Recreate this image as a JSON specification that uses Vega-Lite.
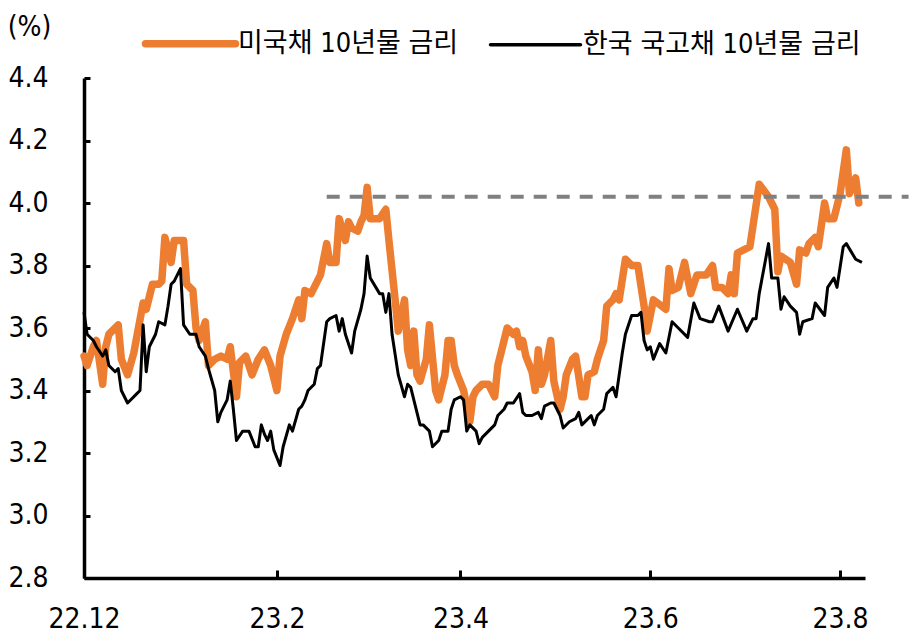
{
  "$schema": "https://vega.github.io/schema/vega-lite/v6.json",
  "width": 781,
  "height": 500,
  "autosize": {"type": "none"},
  "padding": {"left": 84, "top": 78, "right": 53, "bottom": 64},
  "background": "white",
  "config": {"view": {"stroke": null}, "font": "Liberation Sans Narrow, DejaVu Sans Condensed, Noto Sans CJK KR, sans-serif"},
  "datasets": {
    "rates": [
      {"series": "미국채 10년물 금리", "date": "2022-12-01", "value": 3.51},
      {"series": "미국채 10년물 금리", "date": "2022-12-02", "value": 3.48},
      {"series": "미국채 10년물 금리", "date": "2022-12-04", "value": 3.54},
      {"series": "미국채 10년물 금리", "date": "2022-12-05", "value": 3.56},
      {"series": "미국채 10년물 금리", "date": "2022-12-07", "value": 3.42},
      {"series": "미국채 10년물 금리", "date": "2022-12-08", "value": 3.54},
      {"series": "미국채 10년물 금리", "date": "2022-12-09", "value": 3.58},
      {"series": "미국채 10년물 금리", "date": "2022-12-12", "value": 3.61},
      {"series": "미국채 10년물 금리", "date": "2022-12-13", "value": 3.50},
      {"series": "미국채 10년물 금리", "date": "2022-12-15", "value": 3.45},
      {"series": "미국채 10년물 금리", "date": "2022-12-17", "value": 3.52},
      {"series": "미국채 10년물 금리", "date": "2022-12-20", "value": 3.68},
      {"series": "미국채 10년물 금리", "date": "2022-12-21", "value": 3.66},
      {"series": "미국채 10년물 금리", "date": "2022-12-23", "value": 3.74},
      {"series": "미국채 10년물 금리", "date": "2022-12-25", "value": 3.74},
      {"series": "미국채 10년물 금리", "date": "2022-12-26", "value": 3.75},
      {"series": "미국채 10년물 금리", "date": "2022-12-27", "value": 3.89},
      {"series": "미국채 10년물 금리", "date": "2022-12-29", "value": 3.81},
      {"series": "미국채 10년물 금리", "date": "2022-12-30", "value": 3.88},
      {"series": "미국채 10년물 금리", "date": "2023-01-02", "value": 3.88},
      {"series": "미국채 10년물 금리", "date": "2023-01-03", "value": 3.74},
      {"series": "미국채 10년물 금리", "date": "2023-01-05", "value": 3.72},
      {"series": "미국채 10년물 금리", "date": "2023-01-06", "value": 3.60},
      {"series": "미국채 10년물 금리", "date": "2023-01-07", "value": 3.56},
      {"series": "미국채 10년물 금리", "date": "2023-01-09", "value": 3.62},
      {"series": "미국채 10년물 금리", "date": "2023-01-10", "value": 3.48},
      {"series": "미국채 10년물 금리", "date": "2023-01-12", "value": 3.50},
      {"series": "미국채 10년물 금리", "date": "2023-01-14", "value": 3.51},
      {"series": "미국채 10년물 금리", "date": "2023-01-16", "value": 3.50},
      {"series": "미국채 10년물 금리", "date": "2023-01-17", "value": 3.54},
      {"series": "미국채 10년물 금리", "date": "2023-01-19", "value": 3.38},
      {"series": "미국채 10년물 금리", "date": "2023-01-20", "value": 3.49},
      {"series": "미국채 10년물 금리", "date": "2023-01-22", "value": 3.51},
      {"series": "미국채 10년물 금리", "date": "2023-01-24", "value": 3.45},
      {"series": "미국채 10년물 금리", "date": "2023-01-26", "value": 3.50},
      {"series": "미국채 10년물 금리", "date": "2023-01-28", "value": 3.53},
      {"series": "미국채 10년물 금리", "date": "2023-01-30", "value": 3.48},
      {"series": "미국채 10년물 금리", "date": "2023-02-01", "value": 3.40},
      {"series": "미국채 10년물 금리", "date": "2023-02-02", "value": 3.51},
      {"series": "미국채 10년물 금리", "date": "2023-02-04", "value": 3.58},
      {"series": "미국채 10년물 금리", "date": "2023-02-06", "value": 3.63},
      {"series": "미국채 10년물 금리", "date": "2023-02-08", "value": 3.69},
      {"series": "미국채 10년물 금리", "date": "2023-02-09", "value": 3.63},
      {"series": "미국채 10년물 금리", "date": "2023-02-10", "value": 3.72},
      {"series": "미국채 10년물 금리", "date": "2023-02-12", "value": 3.71},
      {"series": "미국채 10년물 금리", "date": "2023-02-15", "value": 3.77},
      {"series": "미국채 10년물 금리", "date": "2023-02-17", "value": 3.87},
      {"series": "미국채 10년물 금리", "date": "2023-02-18", "value": 3.81},
      {"series": "미국채 10년물 금리", "date": "2023-02-20", "value": 3.81},
      {"series": "미국채 10년물 금리", "date": "2023-02-21", "value": 3.95},
      {"series": "미국채 10년물 금리", "date": "2023-02-23", "value": 3.88},
      {"series": "미국채 10년물 금리", "date": "2023-02-24", "value": 3.94},
      {"series": "미국채 10년물 금리", "date": "2023-02-25", "value": 3.92},
      {"series": "미국채 10년물 금리", "date": "2023-02-27", "value": 3.91},
      {"series": "미국채 10년물 금리", "date": "2023-02-28", "value": 3.94},
      {"series": "미국채 10년물 금리", "date": "2023-03-01", "value": 3.96},
      {"series": "미국채 10년물 금리", "date": "2023-03-02", "value": 4.05},
      {"series": "미국채 10년물 금리", "date": "2023-03-03", "value": 3.95},
      {"series": "미국채 10년물 금리", "date": "2023-03-06", "value": 3.95},
      {"series": "미국채 10년물 금리", "date": "2023-03-08", "value": 3.98},
      {"series": "미국채 10년물 금리", "date": "2023-03-09", "value": 3.88},
      {"series": "미국채 10년물 금리", "date": "2023-03-11", "value": 3.69},
      {"series": "미국채 10년물 금리", "date": "2023-03-12", "value": 3.59},
      {"series": "미국채 10년물 금리", "date": "2023-03-14", "value": 3.69},
      {"series": "미국채 10년물 금리", "date": "2023-03-15", "value": 3.53},
      {"series": "미국채 10년물 금리", "date": "2023-03-16", "value": 3.48},
      {"series": "미국채 10년물 금리", "date": "2023-03-17", "value": 3.59},
      {"series": "미국채 10년물 금리", "date": "2023-03-18", "value": 3.45},
      {"series": "미국채 10년물 금리", "date": "2023-03-19", "value": 3.43},
      {"series": "미국채 10년물 금리", "date": "2023-03-21", "value": 3.50},
      {"series": "미국채 10년물 금리", "date": "2023-03-22", "value": 3.61},
      {"series": "미국채 10년물 금리", "date": "2023-03-24", "value": 3.40},
      {"series": "미국채 10년물 금리", "date": "2023-03-25", "value": 3.37},
      {"series": "미국채 10년물 금리", "date": "2023-03-27", "value": 3.45},
      {"series": "미국채 10년물 금리", "date": "2023-03-28", "value": 3.56},
      {"series": "미국채 10년물 금리", "date": "2023-03-29", "value": 3.56},
      {"series": "미국채 10년물 금리", "date": "2023-03-30", "value": 3.48},
      {"series": "미국채 10년물 금리", "date": "2023-03-31", "value": 3.45},
      {"series": "미국채 10년물 금리", "date": "2023-04-02", "value": 3.40},
      {"series": "미국채 10년물 금리", "date": "2023-04-04", "value": 3.30},
      {"series": "미국채 10년물 금리", "date": "2023-04-05", "value": 3.38},
      {"series": "미국채 10년물 금리", "date": "2023-04-06", "value": 3.40},
      {"series": "미국채 10년물 금리", "date": "2023-04-08", "value": 3.42},
      {"series": "미국채 10년물 금리", "date": "2023-04-10", "value": 3.42},
      {"series": "미국채 10년물 금리", "date": "2023-04-12", "value": 3.38},
      {"series": "미국채 10년물 금리", "date": "2023-04-13", "value": 3.48},
      {"series": "미국채 10년물 금리", "date": "2023-04-15", "value": 3.56},
      {"series": "미국채 10년물 금리", "date": "2023-04-16", "value": 3.60},
      {"series": "미국채 10년물 금리", "date": "2023-04-18", "value": 3.58},
      {"series": "미국채 10년물 금리", "date": "2023-04-19", "value": 3.59},
      {"series": "미국채 10년물 금리", "date": "2023-04-20", "value": 3.54},
      {"series": "미국채 10년물 금리", "date": "2023-04-21", "value": 3.56},
      {"series": "미국채 10년물 금리", "date": "2023-04-22", "value": 3.51},
      {"series": "미국채 10년물 금리", "date": "2023-04-24", "value": 3.46},
      {"series": "미국채 10년물 금리", "date": "2023-04-25", "value": 3.40},
      {"series": "미국채 10년물 금리", "date": "2023-04-26", "value": 3.53},
      {"series": "미국채 10년물 금리", "date": "2023-04-27", "value": 3.42},
      {"series": "미국채 10년물 금리", "date": "2023-04-28", "value": 3.45},
      {"series": "미국채 10년물 금리", "date": "2023-04-30", "value": 3.56},
      {"series": "미국채 10년물 금리", "date": "2023-05-01", "value": 3.43},
      {"series": "미국채 10년물 금리", "date": "2023-05-03", "value": 3.34},
      {"series": "미국채 10년물 금리", "date": "2023-05-04", "value": 3.38},
      {"series": "미국채 10년물 금리", "date": "2023-05-05", "value": 3.45},
      {"series": "미국채 10년물 금리", "date": "2023-05-07", "value": 3.50},
      {"series": "미국채 10년물 금리", "date": "2023-05-08", "value": 3.51},
      {"series": "미국채 10년물 금리", "date": "2023-05-10", "value": 3.38},
      {"series": "미국채 10년물 금리", "date": "2023-05-11", "value": 3.38},
      {"series": "미국채 10년물 금리", "date": "2023-05-12", "value": 3.45},
      {"series": "미국채 10년물 금리", "date": "2023-05-14", "value": 3.46},
      {"series": "미국채 10년물 금리", "date": "2023-05-15", "value": 3.50},
      {"series": "미국채 10년물 금리", "date": "2023-05-17", "value": 3.56},
      {"series": "미국채 10년물 금리", "date": "2023-05-18", "value": 3.67},
      {"series": "미국채 10년물 금리", "date": "2023-05-20", "value": 3.69},
      {"series": "미국채 10년물 금리", "date": "2023-05-21", "value": 3.71},
      {"series": "미국채 10년물 금리", "date": "2023-05-22", "value": 3.69},
      {"series": "미국채 10년물 금리", "date": "2023-05-24", "value": 3.82},
      {"series": "미국채 10년물 금리", "date": "2023-05-26", "value": 3.80},
      {"series": "미국채 10년물 금리", "date": "2023-05-28", "value": 3.80},
      {"series": "미국채 10년물 금리", "date": "2023-05-30", "value": 3.67},
      {"series": "미국채 10년물 금리", "date": "2023-05-31", "value": 3.59},
      {"series": "미국채 10년물 금리", "date": "2023-06-02", "value": 3.69},
      {"series": "미국채 10년물 금리", "date": "2023-06-06", "value": 3.66},
      {"series": "미국채 10년물 금리", "date": "2023-06-07", "value": 3.79},
      {"series": "미국채 10년물 금리", "date": "2023-06-08", "value": 3.72},
      {"series": "미국채 10년물 금리", "date": "2023-06-10", "value": 3.73},
      {"series": "미국채 10년물 금리", "date": "2023-06-12", "value": 3.81},
      {"series": "미국채 10년물 금리", "date": "2023-06-14", "value": 3.71},
      {"series": "미국채 10년물 금리", "date": "2023-06-16", "value": 3.77},
      {"series": "미국채 10년물 금리", "date": "2023-06-19", "value": 3.77},
      {"series": "미국채 10년물 금리", "date": "2023-06-21", "value": 3.80},
      {"series": "미국채 10년물 금리", "date": "2023-06-22", "value": 3.73},
      {"series": "미국채 10년물 금리", "date": "2023-06-24", "value": 3.73},
      {"series": "미국채 10년물 금리", "date": "2023-06-26", "value": 3.71},
      {"series": "미국채 10년물 금리", "date": "2023-06-27", "value": 3.77},
      {"series": "미국채 10년물 금리", "date": "2023-06-28", "value": 3.71},
      {"series": "미국채 10년물 금리", "date": "2023-06-29", "value": 3.84},
      {"series": "미국채 10년물 금리", "date": "2023-07-01", "value": 3.85},
      {"series": "미국채 10년물 금리", "date": "2023-07-03", "value": 3.86},
      {"series": "미국채 10년물 금리", "date": "2023-07-06", "value": 4.06},
      {"series": "미국채 10년물 금리", "date": "2023-07-09", "value": 4.02},
      {"series": "미국채 10년물 금리", "date": "2023-07-11", "value": 3.98},
      {"series": "미국채 10년물 금리", "date": "2023-07-12", "value": 3.78},
      {"series": "미국채 10년물 금리", "date": "2023-07-13", "value": 3.83},
      {"series": "미국채 10년물 금리", "date": "2023-07-16", "value": 3.81},
      {"series": "미국채 10년물 금리", "date": "2023-07-18", "value": 3.74},
      {"series": "미국채 10년물 금리", "date": "2023-07-19", "value": 3.85},
      {"series": "미국채 10년물 금리", "date": "2023-07-21", "value": 3.84},
      {"series": "미국채 10년물 금리", "date": "2023-07-22", "value": 3.87},
      {"series": "미국채 10년물 금리", "date": "2023-07-24", "value": 3.89},
      {"series": "미국채 10년물 금리", "date": "2023-07-25", "value": 3.86},
      {"series": "미국채 10년물 금리", "date": "2023-07-27", "value": 4.00},
      {"series": "미국채 10년물 금리", "date": "2023-07-28", "value": 3.95},
      {"series": "미국채 10년물 금리", "date": "2023-07-30", "value": 3.95},
      {"series": "미국채 10년물 금리", "date": "2023-08-01", "value": 4.03},
      {"series": "미국채 10년물 금리", "date": "2023-08-03", "value": 4.17},
      {"series": "미국채 10년물 금리", "date": "2023-08-04", "value": 4.03},
      {"series": "미국채 10년물 금리", "date": "2023-08-06", "value": 4.08},
      {"series": "미국채 10년물 금리", "date": "2023-08-07", "value": 4.00},
      {"series": "한국 국고채 10년물 금리", "date": "2022-12-01", "value": 3.65},
      {"series": "한국 국고채 10년물 금리", "date": "2022-12-02", "value": 3.58},
      {"series": "한국 국고채 10년물 금리", "date": "2022-12-04", "value": 3.56},
      {"series": "한국 국고채 10년물 금리", "date": "2022-12-05", "value": 3.54},
      {"series": "한국 국고채 10년물 금리", "date": "2022-12-07", "value": 3.51},
      {"series": "한국 국고채 10년물 금리", "date": "2022-12-08", "value": 3.53},
      {"series": "한국 국고채 10년물 금리", "date": "2022-12-09", "value": 3.48},
      {"series": "한국 국고채 10년물 금리", "date": "2022-12-11", "value": 3.46},
      {"series": "한국 국고채 10년물 금리", "date": "2022-12-12", "value": 3.47},
      {"series": "한국 국고채 10년물 금리", "date": "2022-12-13", "value": 3.40},
      {"series": "한국 국고채 10년물 금리", "date": "2022-12-15", "value": 3.36},
      {"series": "한국 국고채 10년물 금리", "date": "2022-12-18", "value": 3.39},
      {"series": "한국 국고채 10년물 금리", "date": "2022-12-19", "value": 3.40},
      {"series": "한국 국고채 10년물 금리", "date": "2022-12-20", "value": 3.61},
      {"series": "한국 국고채 10년물 금리", "date": "2022-12-21", "value": 3.46},
      {"series": "한국 국고채 10년물 금리", "date": "2022-12-22", "value": 3.54},
      {"series": "한국 국고채 10년물 금리", "date": "2022-12-24", "value": 3.58},
      {"series": "한국 국고채 10년물 금리", "date": "2022-12-25", "value": 3.62},
      {"series": "한국 국고채 10년물 금리", "date": "2022-12-27", "value": 3.61},
      {"series": "한국 국고채 10년물 금리", "date": "2022-12-28", "value": 3.67},
      {"series": "한국 국고채 10년물 금리", "date": "2022-12-29", "value": 3.74},
      {"series": "한국 국고채 10년물 금리", "date": "2022-12-30", "value": 3.75},
      {"series": "한국 국고채 10년물 금리", "date": "2023-01-01", "value": 3.79},
      {"series": "한국 국고채 10년물 금리", "date": "2023-01-02", "value": 3.61},
      {"series": "한국 국고채 10년물 금리", "date": "2023-01-04", "value": 3.58},
      {"series": "한국 국고채 10년물 금리", "date": "2023-01-06", "value": 3.58},
      {"series": "한국 국고채 10년물 금리", "date": "2023-01-07", "value": 3.54},
      {"series": "한국 국고채 10년물 금리", "date": "2023-01-09", "value": 3.51},
      {"series": "한국 국고채 10년물 금리", "date": "2023-01-10", "value": 3.47},
      {"series": "한국 국고채 10년물 금리", "date": "2023-01-12", "value": 3.40},
      {"series": "한국 국고채 10년물 금리", "date": "2023-01-13", "value": 3.30},
      {"series": "한국 국고채 10년물 금리", "date": "2023-01-14", "value": 3.33},
      {"series": "한국 국고채 10년물 금리", "date": "2023-01-16", "value": 3.37},
      {"series": "한국 국고채 10년물 금리", "date": "2023-01-17", "value": 3.43},
      {"series": "한국 국고채 10년물 금리", "date": "2023-01-18", "value": 3.34},
      {"series": "한국 국고채 10년물 금리", "date": "2023-01-19", "value": 3.24},
      {"series": "한국 국고채 10년물 금리", "date": "2023-01-21", "value": 3.27},
      {"series": "한국 국고채 10년물 금리", "date": "2023-01-23", "value": 3.27},
      {"series": "한국 국고채 10년물 금리", "date": "2023-01-25", "value": 3.22},
      {"series": "한국 국고채 10년물 금리", "date": "2023-01-26", "value": 3.22},
      {"series": "한국 국고채 10년물 금리", "date": "2023-01-27", "value": 3.29},
      {"series": "한국 국고채 10년물 금리", "date": "2023-01-28", "value": 3.26},
      {"series": "한국 국고채 10년물 금리", "date": "2023-01-29", "value": 3.24},
      {"series": "한국 국고채 10년물 금리", "date": "2023-01-30", "value": 3.27},
      {"series": "한국 국고채 10년물 금리", "date": "2023-01-31", "value": 3.21},
      {"series": "한국 국고채 10년물 금리", "date": "2023-02-02", "value": 3.16},
      {"series": "한국 국고채 10년물 금리", "date": "2023-02-03", "value": 3.22},
      {"series": "한국 국고채 10년물 금리", "date": "2023-02-05", "value": 3.29},
      {"series": "한국 국고채 10년물 금리", "date": "2023-02-06", "value": 3.27},
      {"series": "한국 국고채 10년물 금리", "date": "2023-02-08", "value": 3.34},
      {"series": "한국 국고채 10년물 금리", "date": "2023-02-09", "value": 3.35},
      {"series": "한국 국고채 10년물 금리", "date": "2023-02-10", "value": 3.37},
      {"series": "한국 국고채 10년물 금리", "date": "2023-02-11", "value": 3.40},
      {"series": "한국 국고채 10년물 금리", "date": "2023-02-13", "value": 3.42},
      {"series": "한국 국고채 10년물 금리", "date": "2023-02-14", "value": 3.47},
      {"series": "한국 국고채 10년물 금리", "date": "2023-02-15", "value": 3.48},
      {"series": "한국 국고채 10년물 금리", "date": "2023-02-17", "value": 3.62},
      {"series": "한국 국고채 10년물 금리", "date": "2023-02-18", "value": 3.63},
      {"series": "한국 국고채 10년물 금리", "date": "2023-02-20", "value": 3.64},
      {"series": "한국 국고채 10년물 금리", "date": "2023-02-21", "value": 3.59},
      {"series": "한국 국고채 10년물 금리", "date": "2023-02-22", "value": 3.63},
      {"series": "한국 국고채 10년물 금리", "date": "2023-02-23", "value": 3.58},
      {"series": "한국 국고채 10년물 금리", "date": "2023-02-25", "value": 3.52},
      {"series": "한국 국고채 10년물 금리", "date": "2023-02-26", "value": 3.59},
      {"series": "한국 국고채 10년물 금리", "date": "2023-02-28", "value": 3.66},
      {"series": "한국 국고채 10년물 금리", "date": "2023-03-01", "value": 3.71},
      {"series": "한국 국고채 10년물 금리", "date": "2023-03-02", "value": 3.83},
      {"series": "한국 국고채 10년물 금리", "date": "2023-03-03", "value": 3.76},
      {"series": "한국 국고채 10년물 금리", "date": "2023-03-06", "value": 3.71},
      {"series": "한국 국고채 10년물 금리", "date": "2023-03-07", "value": 3.71},
      {"series": "한국 국고채 10년물 금리", "date": "2023-03-08", "value": 3.65},
      {"series": "한국 국고채 10년물 금리", "date": "2023-03-09", "value": 3.71},
      {"series": "한국 국고채 10년물 금리", "date": "2023-03-10", "value": 3.58},
      {"series": "한국 국고채 10년물 금리", "date": "2023-03-12", "value": 3.45},
      {"series": "한국 국고채 10년물 금리", "date": "2023-03-14", "value": 3.38},
      {"series": "한국 국고채 10년물 금리", "date": "2023-03-15", "value": 3.42},
      {"series": "한국 국고채 10년물 금리", "date": "2023-03-16", "value": 3.41},
      {"series": "한국 국고채 10년물 금리", "date": "2023-03-19", "value": 3.29},
      {"series": "한국 국고채 10년물 금리", "date": "2023-03-20", "value": 3.29},
      {"series": "한국 국고채 10년물 금리", "date": "2023-03-22", "value": 3.27},
      {"series": "한국 국고채 10년물 금리", "date": "2023-03-23", "value": 3.22},
      {"series": "한국 국고채 10년물 금리", "date": "2023-03-25", "value": 3.24},
      {"series": "한국 국고채 10년물 금리", "date": "2023-03-26", "value": 3.27},
      {"series": "한국 국고채 10년물 금리", "date": "2023-03-28", "value": 3.27},
      {"series": "한국 국고채 10년물 금리", "date": "2023-03-29", "value": 3.34},
      {"series": "한국 국고채 10년물 금리", "date": "2023-03-30", "value": 3.37},
      {"series": "한국 국고채 10년물 금리", "date": "2023-04-01", "value": 3.38},
      {"series": "한국 국고채 10년물 금리", "date": "2023-04-02", "value": 3.37},
      {"series": "한국 국고채 10년물 금리", "date": "2023-04-03", "value": 3.27},
      {"series": "한국 국고채 10년물 금리", "date": "2023-04-04", "value": 3.29},
      {"series": "한국 국고채 10년물 금리", "date": "2023-04-06", "value": 3.27},
      {"series": "한국 국고채 10년물 금리", "date": "2023-04-07", "value": 3.23},
      {"series": "한국 국고채 10년물 금리", "date": "2023-04-08", "value": 3.25},
      {"series": "한국 국고채 10년물 금리", "date": "2023-04-10", "value": 3.27},
      {"series": "한국 국고채 10년물 금리", "date": "2023-04-12", "value": 3.29},
      {"series": "한국 국고채 10년물 금리", "date": "2023-04-13", "value": 3.32},
      {"series": "한국 국고채 10년물 금리", "date": "2023-04-15", "value": 3.34},
      {"series": "한국 국고채 10년물 금리", "date": "2023-04-16", "value": 3.36},
      {"series": "한국 국고채 10년물 금리", "date": "2023-04-18", "value": 3.36},
      {"series": "한국 국고채 10년물 금리", "date": "2023-04-20", "value": 3.39},
      {"series": "한국 국고채 10년물 금리", "date": "2023-04-21", "value": 3.33},
      {"series": "한국 국고채 10년물 금리", "date": "2023-04-22", "value": 3.32},
      {"series": "한국 국고채 10년물 금리", "date": "2023-04-24", "value": 3.32},
      {"series": "한국 국고채 10년물 금리", "date": "2023-04-26", "value": 3.33},
      {"series": "한국 국고채 10년물 금리", "date": "2023-04-27", "value": 3.31},
      {"series": "한국 국고채 10년물 금리", "date": "2023-04-28", "value": 3.35},
      {"series": "한국 국고채 10년물 금리", "date": "2023-04-30", "value": 3.36},
      {"series": "한국 국고채 10년물 금리", "date": "2023-05-01", "value": 3.36},
      {"series": "한국 국고채 10년물 금리", "date": "2023-05-03", "value": 3.32},
      {"series": "한국 국고채 10년물 금리", "date": "2023-05-04", "value": 3.28},
      {"series": "한국 국고채 10년물 금리", "date": "2023-05-06", "value": 3.30},
      {"series": "한국 국고채 10년물 금리", "date": "2023-05-08", "value": 3.31},
      {"series": "한국 국고채 10년물 금리", "date": "2023-05-09", "value": 3.33},
      {"series": "한국 국고채 10년물 금리", "date": "2023-05-10", "value": 3.29},
      {"series": "한국 국고채 10년물 금리", "date": "2023-05-12", "value": 3.31},
      {"series": "한국 국고채 10년물 금리", "date": "2023-05-13", "value": 3.32},
      {"series": "한국 국고채 10년물 금리", "date": "2023-05-14", "value": 3.29},
      {"series": "한국 국고채 10년물 금리", "date": "2023-05-15", "value": 3.32},
      {"series": "한국 국고채 10년물 금리", "date": "2023-05-17", "value": 3.34},
      {"series": "한국 국고채 10년물 금리", "date": "2023-05-18", "value": 3.39},
      {"series": "한국 국고채 10년물 금리", "date": "2023-05-20", "value": 3.41},
      {"series": "한국 국고채 10년물 금리", "date": "2023-05-21", "value": 3.38},
      {"series": "한국 국고채 10년물 금리", "date": "2023-05-22", "value": 3.45},
      {"series": "한국 국고채 10년물 금리", "date": "2023-05-23", "value": 3.52},
      {"series": "한국 국고채 10년물 금리", "date": "2023-05-24", "value": 3.58},
      {"series": "한국 국고채 10년물 금리", "date": "2023-05-26", "value": 3.64},
      {"series": "한국 국고채 10년물 금리", "date": "2023-05-28", "value": 3.64},
      {"series": "한국 국고채 10년물 금리", "date": "2023-05-29", "value": 3.65},
      {"series": "한국 국고채 10년물 금리", "date": "2023-05-30", "value": 3.56},
      {"series": "한국 국고채 10년물 금리", "date": "2023-05-31", "value": 3.53},
      {"series": "한국 국고채 10년물 금리", "date": "2023-06-01", "value": 3.54},
      {"series": "한국 국고채 10년물 금리", "date": "2023-06-02", "value": 3.50},
      {"series": "한국 국고채 10년물 금리", "date": "2023-06-04", "value": 3.55},
      {"series": "한국 국고채 10년물 금리", "date": "2023-06-06", "value": 3.52},
      {"series": "한국 국고채 10년물 금리", "date": "2023-06-08", "value": 3.62},
      {"series": "한국 국고채 10년물 금리", "date": "2023-06-10", "value": 3.60},
      {"series": "한국 국고채 10년물 금리", "date": "2023-06-13", "value": 3.57},
      {"series": "한국 국고채 10년물 금리", "date": "2023-06-15", "value": 3.68},
      {"series": "한국 국고채 10년물 금리", "date": "2023-06-17", "value": 3.63},
      {"series": "한국 국고채 10년물 금리", "date": "2023-06-20", "value": 3.62},
      {"series": "한국 국고채 10년물 금리", "date": "2023-06-21", "value": 3.62},
      {"series": "한국 국고채 10년물 금리", "date": "2023-06-23", "value": 3.67},
      {"series": "한국 국고채 10년물 금리", "date": "2023-06-26", "value": 3.59},
      {"series": "한국 국고채 10년물 금리", "date": "2023-06-29", "value": 3.66},
      {"series": "한국 국고채 10년물 금리", "date": "2023-07-02", "value": 3.59},
      {"series": "한국 국고채 10년물 금리", "date": "2023-07-04", "value": 3.63},
      {"series": "한국 국고채 10년물 금리", "date": "2023-07-05", "value": 3.63},
      {"series": "한국 국고채 10년물 금리", "date": "2023-07-06", "value": 3.71},
      {"series": "한국 국고채 10년물 금리", "date": "2023-07-09", "value": 3.87},
      {"series": "한국 국고채 10년물 금리", "date": "2023-07-10", "value": 3.76},
      {"series": "한국 국고채 10년물 금리", "date": "2023-07-12", "value": 3.76},
      {"series": "한국 국고채 10년물 금리", "date": "2023-07-13", "value": 3.66},
      {"series": "한국 국고채 10년물 금리", "date": "2023-07-14", "value": 3.70},
      {"series": "한국 국고채 10년물 금리", "date": "2023-07-16", "value": 3.67},
      {"series": "한국 국고채 10년물 금리", "date": "2023-07-18", "value": 3.65},
      {"series": "한국 국고채 10년물 금리", "date": "2023-07-19", "value": 3.58},
      {"series": "한국 국고채 10년물 금리", "date": "2023-07-20", "value": 3.62},
      {"series": "한국 국고채 10년물 금리", "date": "2023-07-23", "value": 3.63},
      {"series": "한국 국고채 10년물 금리", "date": "2023-07-24", "value": 3.68},
      {"series": "한국 국고채 10년물 금리", "date": "2023-07-27", "value": 3.64},
      {"series": "한국 국고채 10년물 금리", "date": "2023-07-28", "value": 3.73},
      {"series": "한국 국고채 10년물 금리", "date": "2023-07-30", "value": 3.76},
      {"series": "한국 국고채 10년물 금리", "date": "2023-07-31", "value": 3.73},
      {"series": "한국 국고채 10년물 금리", "date": "2023-08-02", "value": 3.86},
      {"series": "한국 국고채 10년물 금리", "date": "2023-08-03", "value": 3.87},
      {"series": "한국 국고채 10년물 금리", "date": "2023-08-06", "value": 3.82},
      {"series": "한국 국고채 10년물 금리", "date": "2023-08-08", "value": 3.81}
    ],
    "reference": [
      {"start": "2023-02-17", "end": "2023-08-23", "level": 4.02}
    ]
  },
  "encoding": {
    "x": {
      "field": "date",
      "type": "temporal",
      "scale": {"type": "utc", "domain": [{"year": 2022, "month": 12, "date": 1, "utc": true}, {"year": 2023, "month": 8, "date": 9, "utc": true}]},
      "axis": {
        "values": [
          {"year": 2022, "month": 12, "date": 1, "utc": true},
          {"year": 2023, "month": 2, "date": 1, "utc": true},
          {"year": 2023, "month": 4, "date": 1, "utc": true},
          {"year": 2023, "month": 6, "date": 1, "utc": true},
          {"year": 2023, "month": 8, "date": 1, "utc": true}
        ],
        "labelExpr": "utcFormat(datum.value, '%y.%-m')",
        "title": null,
        "grid": false,
        "domainColor": "#000000",
        "domainWidth": 3.5,
        "tickColor": "#000000",
        "tickWidth": 3,
        "tickSize": -8,
        "labelPadding": 35,
        "labelFont": "Liberation Sans Narrow, DejaVu Sans Condensed, Noto Sans CJK KR, sans-serif",
        "labelFontSize": 28,
        "labelColor": "#000000",
        "labelFlush": false,
        "labelOverlap": false
      }
    },
    "y": {
      "field": "value",
      "type": "quantitative",
      "scale": {"domain": [2.8, 4.4], "nice": false, "zero": false},
      "axis": {
        "values": [2.8, 3.0, 3.2, 3.4, 3.6, 3.8, 4.0, 4.2, 4.4],
        "format": ".1f",
        "grid": false,
        "domainColor": "#000000",
        "domainWidth": 3.5,
        "tickColor": "#000000",
        "tickWidth": 3,
        "tickSize": -6,
        "labelPadding": 42,
        "labelFont": "Liberation Sans Narrow, DejaVu Sans Condensed, Noto Sans CJK KR, sans-serif",
        "labelFontSize": 28,
        "labelColor": "#000000",
        "labelFlush": false,
        "labelOverlap": false,
        "title": "(%)",
        "titleAngle": 0,
        "titleX": -55,
        "titleY": -51,
        "titleAlign": "center",
        "titleBaseline": "middle",
        "titleFont": "Liberation Sans Narrow, DejaVu Sans Condensed, Noto Sans CJK KR, sans-serif",
        "titleFontSize": 28,
        "titleFontWeight": "normal",
        "titleColor": "#000000"
      }
    }
  },
  "layer": [
    {
      "data": {"name": "rates"},
      "transform": [{"filter": "datum.series === '미국채 10년물 금리'"}],
      "mark": {"type": "line", "strokeWidth": 7.5, "strokeJoin": "round", "strokeCap": "round"},
      "encoding": {
        "color": {
          "field": "series",
          "type": "nominal",
          "scale": {"domain": ["미국채 10년물 금리", "한국 국고채 10년물 금리"], "range": ["#ED7D31", "#000000"]},
          "legend": {
            "title": null,
            "orient": "none",
            "legendX": 93,
            "legendY": -48,
            "direction": "horizontal",
            "padding": 0,
            "symbolType": "stroke",
            "symbolSize": 8100,
            "symbolStrokeWidth": 7,
            "labelFont": "Liberation Sans Narrow, DejaVu Sans Condensed, Noto Sans CJK KR, sans-serif",
            "labelFontSize": 27,
            "labelColor": "#000000",
            "labelOffset": 34,
            "columnPadding": 24,
            "labelLimit": 400,
            "encode": {
              "symbols": {
                "update": {
                  "strokeWidth": {"signal": "datum.value === '미국채 10년물 금리' ? 7.5 : 3.5"},
                  "strokeCap": {"value": "round"}
                }
              }
            }
          }
        }
      }
    },
    {
      "data": {"name": "rates"},
      "transform": [{"filter": "datum.series === '한국 국고채 10년물 금리'"}],
      "mark": {"type": "line", "strokeWidth": 3, "strokeJoin": "round"},
      "encoding": {
        "color": {"field": "series", "type": "nominal"}
      }
    },
    {
      "data": {"name": "reference"},
      "mark": {"type": "rule", "color": "#808080", "strokeWidth": 4, "strokeDash": [13, 10]},
      "encoding": {
        "x": {"field": "start", "type": "temporal"},
        "x2": {"field": "end"},
        "y": {"field": "level", "type": "quantitative"}
      }
    }
  ]
}
